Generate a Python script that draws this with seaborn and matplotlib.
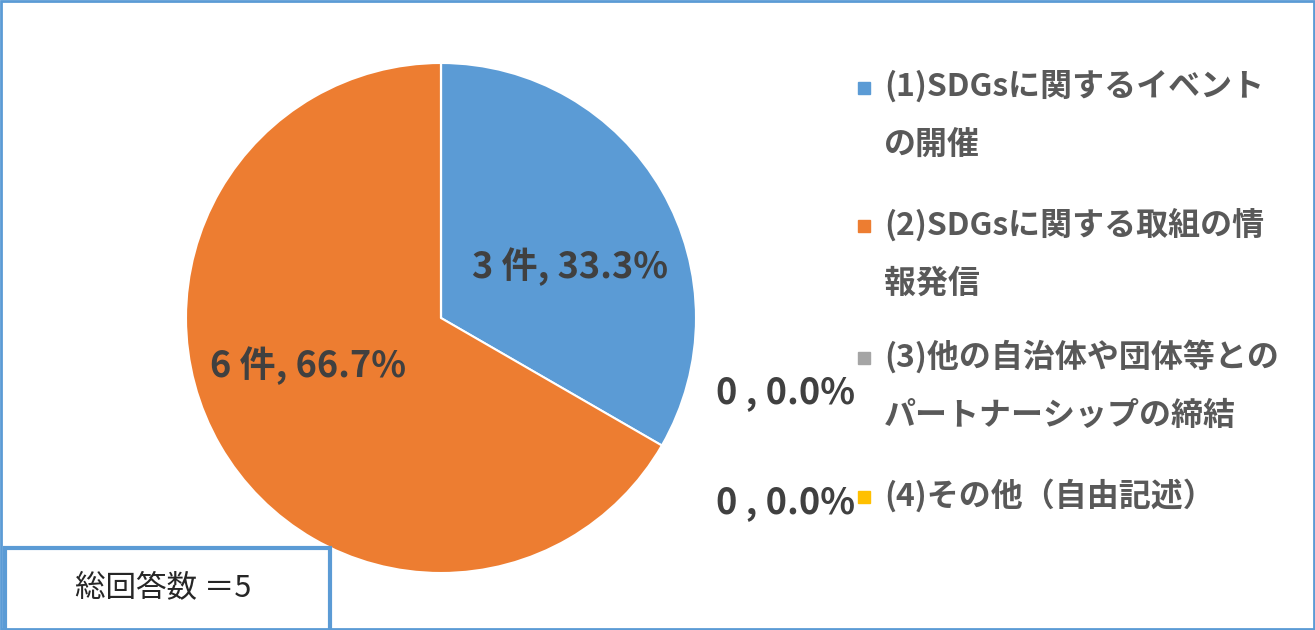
import seaborn as sns
import matplotlib.pyplot as plt
from matplotlib.patches import Rectangle

# answers to the survey question
categories = [
    '(1)SDGsに関するイベント\nの開催',
    '(2)SDGsに関する取組の情\n報発信',
    '(3)他の自治体や団体等との\nパートナーシップの締結',
    '(4)その他（自由記述）',
]
counts = [3, 6, 0, 0]
colors = ['#5B9BD5', '#ED7D31', '#A5A5A5', '#FFC000']
total_label = '総回答数 ＝5'

sns.set_theme(style='white')
plt.rcParams['font.family'] = ['Noto Sans CJK JP', 'DejaVu Sans']

W, H = 1315, 630
fig = plt.figure(figsize=(W / 100, H / 100), dpi=100)

# pie: centre (441, 318), radius 255 px
ax = fig.add_axes([186 / W, (H - 573) / H, 510 / W, 510 / H])
wedges, _ = ax.pie(counts, colors=colors, startangle=90, counterclock=False,
                   wedgeprops=dict(edgecolor='white', linewidth=1.5))
ax.set_xlim(-1, 1)
ax.set_ylim(-1, 1)
ax.axis('off')

total = sum(counts)
pct = [c / total * 100 for c in counts]

# labels of the two visible slices
label_pos = {0: (570, 267), 1: (308, 366)}
for i, (x, y) in label_pos.items():
    fig.text(x / W, 1 - y / H, f'{counts[i]} 件, {pct[i]:.1f}%',
             ha='center', va='center', fontsize=26, fontweight='bold',
             color='#404040')

# labels of the empty slices, next to the legend
zero_pos = {2: 393, 3: 503}
for i, y in zero_pos.items():
    fig.text(855 / W, 1 - y / H, f'{counts[i]} , {pct[i]:.1f}%',
             ha='right', va='center', fontsize=26, fontweight='bold',
             color='#404040')

# legend
entry_y = [88, 226, 358, 497]
for cat, col, y in zip(categories, colors, entry_y):
    fig.patches.append(Rectangle((858 / W, 1 - (y + 6) / H), 12 / W, 12 / H,
                                 transform=fig.transFigure, color=col))
    fig.text(884 / W, 1 - (y - 18) / H, cat, ha='left', va='top',
             fontsize=23, fontweight='bold', color='#595959',
             linespacing=2.05)

# total box
fig.patches.append(Rectangle((5 / W, -10 / H), 325 / W, (H - 548 + 10) / H,
                             transform=fig.transFigure, facecolor='white',
                             edgecolor='#5B9BD5', linewidth=3))
fig.text(163 / W, 1 - 589 / H, total_label, ha='center', va='center',
         fontsize=22, color='#262626')

# outer border
fig.patches.append(Rectangle((1 / W, 1 / H), (W - 2) / W, (H - 2) / H,
                             transform=fig.transFigure, fill=False,
                             edgecolor='#5B9BD5', linewidth=2))

fig.savefig('out.png', dpi=100)
